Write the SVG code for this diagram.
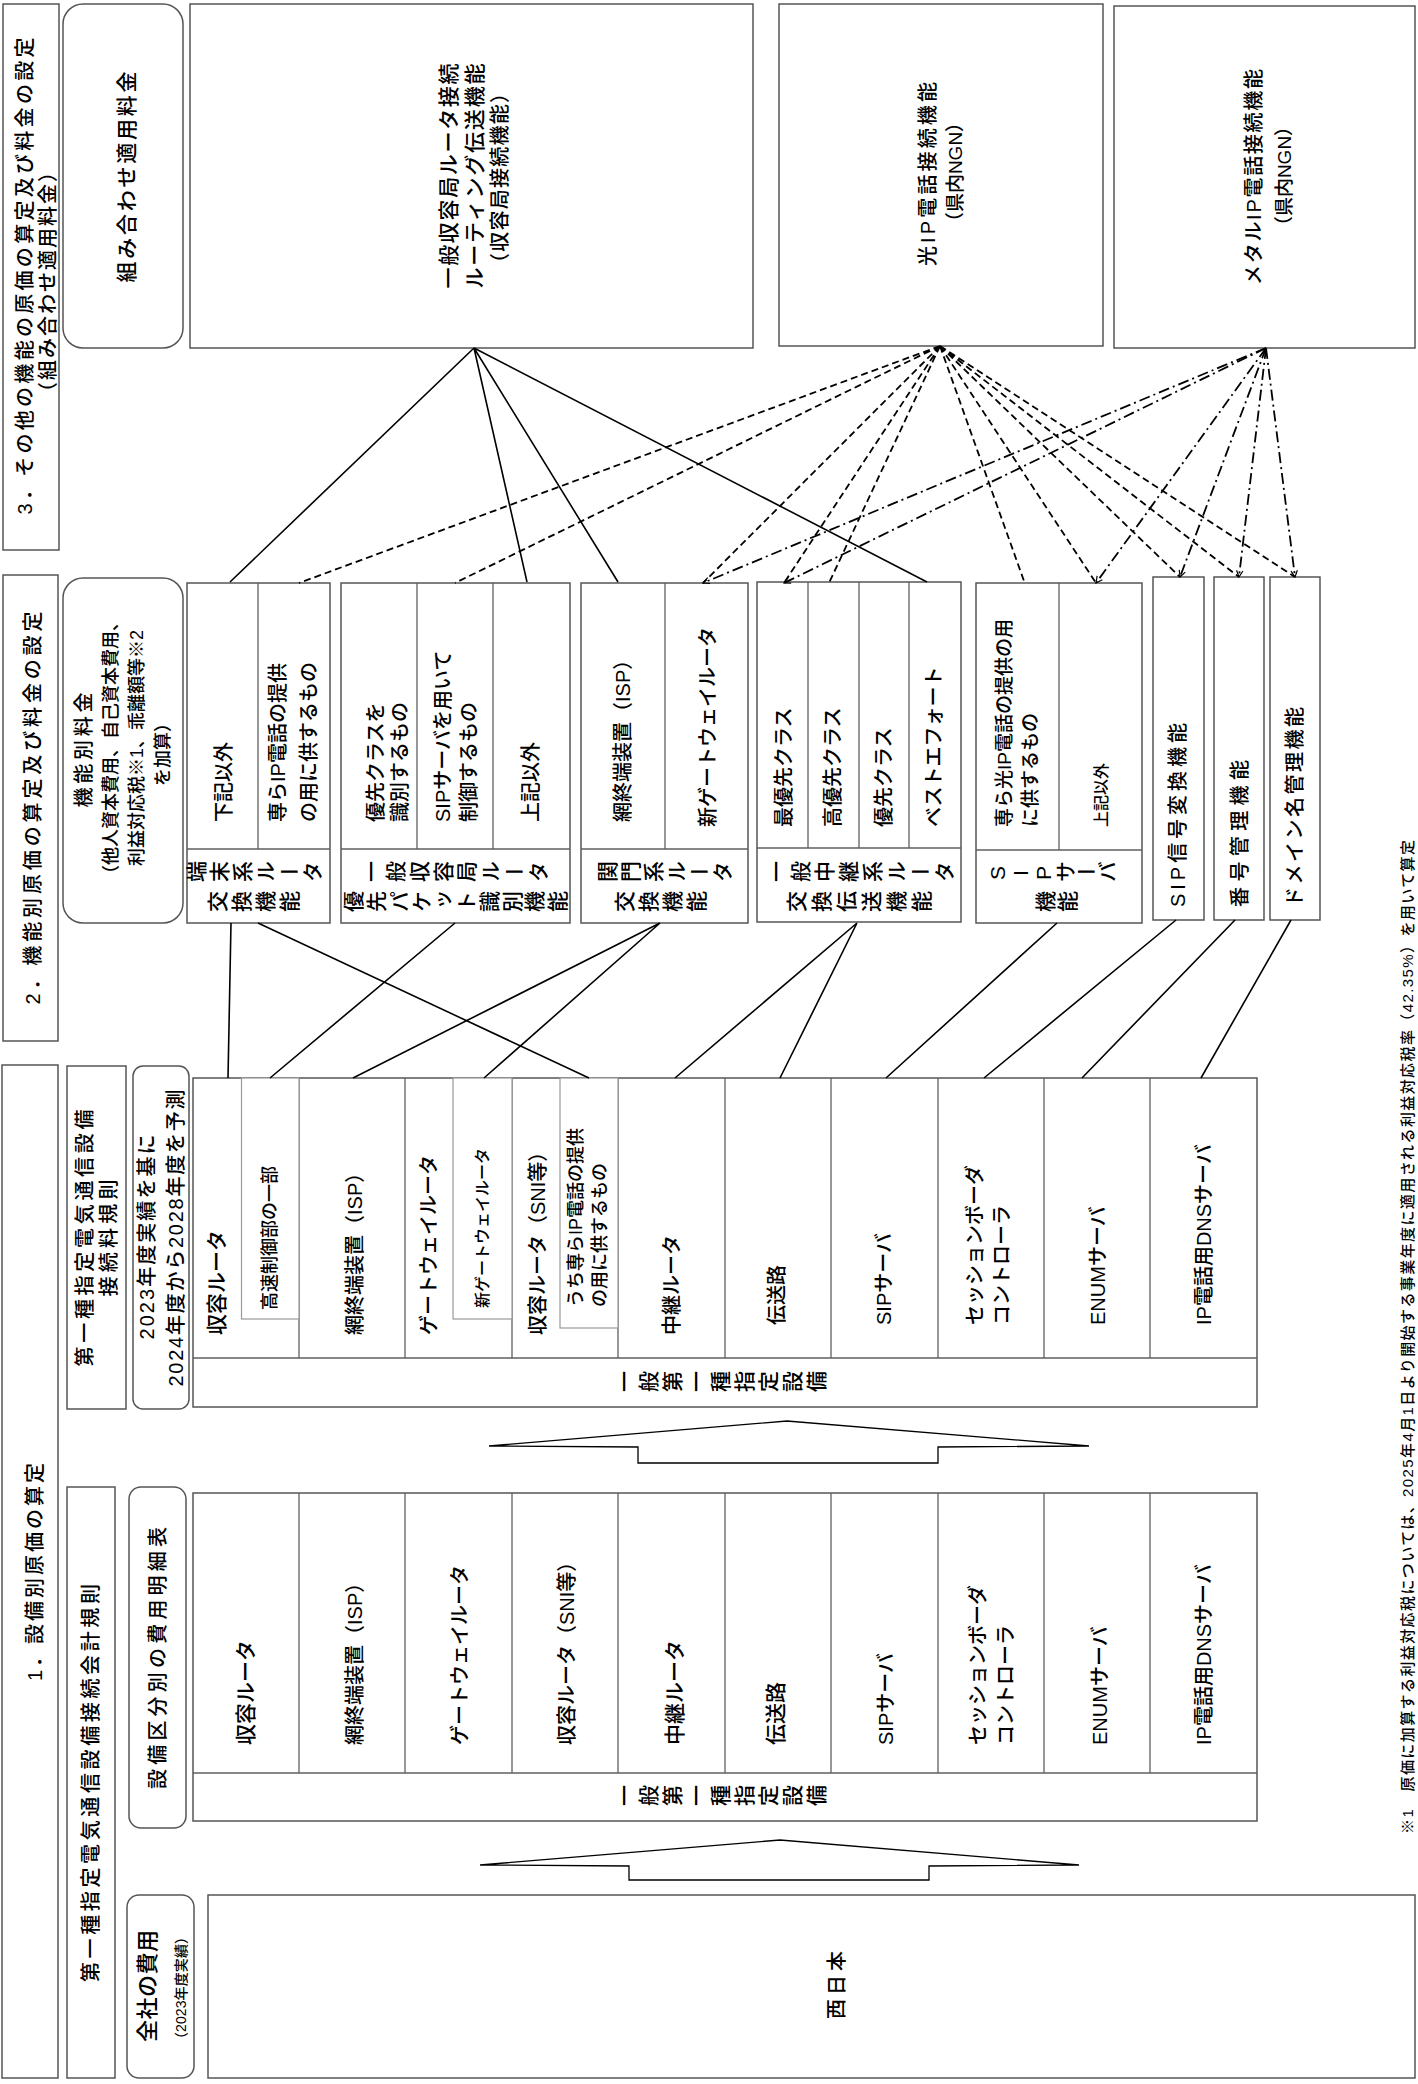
<svg xmlns="http://www.w3.org/2000/svg" width="1418" height="2084" viewBox="0 0 1418 2084">
<style>
text{font-family:"Liberation Sans","Noto Sans CJK JP",sans-serif;fill:#000;font-weight:500}
.c{text-anchor:middle;dominant-baseline:central}
.s{text-anchor:start;dominant-baseline:central}
.v{writing-mode:vertical-rl;text-orientation:upright;text-anchor:middle;font-size:21px}
.box{fill:#fff;stroke:#555;stroke-width:1.5}
.sub{fill:#fff;stroke:#9a9a9a;stroke-width:1.2}
.ln{stroke:#606060;stroke-width:1.3;fill:none}
.arr{fill:#fff;stroke:#000;stroke-width:1.3}
.sol{stroke:#000;stroke-width:1.6;fill:none}
.dash{stroke:#000;stroke-width:1.8;stroke-dasharray:7 4;fill:none}
.dd{stroke:#000;stroke-width:1.8;stroke-dasharray:11 4 2 4;fill:none}
</style>
<defs>
<marker id="ah" viewBox="0 0 10 10" refX="9" refY="5" markerWidth="8" markerHeight="8" markerUnits="userSpaceOnUse" orient="auto">
<path d="M1,1 L9,5 L1,9" fill="none" stroke="#000" stroke-width="1.5"/>
</marker>
</defs>
<rect width="1418" height="2084" fill="#fff"/>
<g transform="translate(0,2084) rotate(-90)">

<!-- Section 3 -->
<g id="s3-label">
<rect class="box" x="1534" y="3" width="546" height="56"/>
<text class="c" x="1808" y="25" font-size="20" textLength="477" lengthAdjust="spacing">3．その他の機能の原価の算定及び料金の設定</text>
<text class="c" x="1802" y="48" font-size="20" textLength="240" lengthAdjust="spacing">（組み合わせ適用料金）</text>
</g>
<g id="n-kumiawase">
<rect class="box" x="1736" y="63" width="344" height="120" rx="20"/>
<text class="c" x="1907" y="126" font-size="21" textLength="211" lengthAdjust="spacing">組み合わせ適用料金</text>
</g>
<g id="n-ippan-shuyo">
<rect class="box" x="1736" y="190" width="344" height="563"/>
<text class="c" x="1908" y="448" font-size="21" textLength="225" lengthAdjust="spacing">一般収容局ルータ接続</text>
<text class="c" x="1908" y="474" font-size="21" textLength="225" lengthAdjust="spacing">ルーティング伝送機能</text>
<text class="c" x="1906" y="500" font-size="20" textLength="190" lengthAdjust="spacing">（収容局接続機能）</text>
</g>
<g id="n-hikari">
<rect class="box" x="1738" y="779" width="342" height="324"/>
<text class="c" x="1910" y="928" font-size="20" textLength="184" lengthAdjust="spacing">光IP電話接続機能</text>
<text class="c" x="1912" y="955" font-size="19">（県内NGN）</text>
</g>
<g id="n-metal">
<rect class="box" x="1736" y="1114" width="342" height="301"/>
<text class="c" x="1907" y="1254" font-size="20" textLength="216" lengthAdjust="spacing">メタルIP電話接続機能</text>
<text class="c" x="1908" y="1284" font-size="19">（県内NGN）</text>
</g>

<!-- Section 2 -->
<g id="s2-label">
<rect class="box" x="1043" y="3" width="466" height="55"/>
<text class="c" x="1276" y="33" font-size="20" textLength="393" lengthAdjust="spacing">2．機能別原価の算定及び料金の設定</text>
</g>
<g id="n-kinoubetsu">
<rect class="box" x="1161" y="63" width="345" height="120" rx="20"/>
<text class="c" x="1334" y="84" font-size="20" textLength="115" lengthAdjust="spacing">機能別料金</text>
<text class="c" x="1336" y="111" font-size="18">（他人資本費用、自己資本費用、</text>
<text class="c" x="1336" y="137" font-size="18">利益対応税※1、乖離額等※2</text>
<text class="c" x="1334" y="163" font-size="18">を加算）</text>
</g>
<g id="n-tanmatsu">
<rect class="box" x="1161" y="187" width="340" height="143"/>
<path class="ln" d="M1235,187 V330 M1235,258 H1501"/>
<text class="s" x="1262" y="224" font-size="20">下記以外</text>
<text class="s" x="1262" y="278" font-size="20">専らIP電話の提供</text>
<text class="s" x="1262" y="309" font-size="20">の用に供するもの</text>
<text class="v" x="1211" y="255" letter-spacing="2.3">端末系ルータ</text>
<text class="v" x="1181" y="255" letter-spacing="3">交換機能</text>
</g>
<g id="n-yusen-packet">
<rect class="box" x="1161" y="341" width="340" height="229"/>
<path class="ln" d="M1235,341 V570 M1235,417 H1501 M1235,493 H1501"/>
<text class="s" x="1262" y="376" font-size="20">優先クラスを</text>
<text class="s" x="1262" y="400" font-size="20">識別するもの</text>
<text class="s" x="1262" y="443" font-size="20">SIPサーバを用いて</text>
<text class="s" x="1262" y="469" font-size="20">制御するもの</text>
<text class="s" x="1262" y="531" font-size="20">上記以外</text>
<text class="v" x="1211" y="456" letter-spacing="2.8">一般収容局ルータ</text>
<text class="v" x="1181" y="456" letter-spacing="1.6">優先パケット識別機能</text>
</g>
<g id="n-kanmon">
<rect class="box" x="1161" y="581" width="340" height="167"/>
<path class="ln" d="M1235,581 V748 M1235,665 H1501"/>
<text class="s" x="1262" y="623" font-size="20">網終端装置（ISP）</text>
<text class="s" x="1257" y="708" font-size="20">新ゲートウェイルータ</text>
<text class="v" x="1211" y="666" letter-spacing="2">関門系ルータ</text>
<text class="v" x="1181" y="662" letter-spacing="3">交換機能</text>
</g>
<g id="n-chukei">
<rect class="box" x="1162" y="757" width="340" height="204"/>
<path class="ln" d="M1236,757 V961 M1236,808 H1502 M1236,859 H1502 M1236,909 H1502"/>
<text class="s" x="1257" y="784" font-size="20">最優先クラス</text>
<text class="s" x="1257" y="833" font-size="20">高優先クラス</text>
<text class="s" x="1257" y="884" font-size="20">優先クラス</text>
<text class="s" x="1257" y="934" font-size="20">ベストエフォート</text>
<text class="v" x="1211" y="862" letter-spacing="3">一般中継系ルータ</text>
<text class="v" x="1181" y="861" letter-spacing="4">交換伝送機能</text>
</g>
<g id="n-sip">
<rect class="box" x="1161" y="976" width="340" height="166"/>
<path class="ln" d="M1234,976 V1142 M1234,1059 H1501"/>
<text class="s" x="1257" y="1004" font-size="19">専ら光IP電話の提供の用</text>
<text class="s" x="1257" y="1030" font-size="19">に供するもの</text>
<text class="s" x="1257" y="1101" font-size="16">上記以外</text>
<text class="v" x="1211" y="1052">SIPサーバ</text>
<text class="v" x="1181" y="1057" letter-spacing="1">機能</text>
</g>
<g id="n-sip-shingo">
<rect class="box" x="1164" y="1153" width="343" height="51"/>
<text class="s" x="1177" y="1178" font-size="20" textLength="184" lengthAdjust="spacing">SIP信号変換機能</text>
</g>
<g id="n-bango">
<rect class="box" x="1164" y="1214" width="343" height="50"/>
<text class="s" x="1177" y="1240" font-size="20" textLength="147" lengthAdjust="spacing">番号管理機能</text>
</g>
<g id="n-domain">
<rect class="box" x="1164" y="1270" width="343" height="50"/>
<text class="s" x="1177" y="1295" font-size="20" textLength="200" lengthAdjust="spacing">ドメイン名管理機能</text>
</g>

<!-- Section 1 -->
<g id="s1-label">
<rect class="box" x="6" y="2" width="1013" height="56"/>
<text class="c" x="512" y="35" font-size="20" textLength="218" lengthAdjust="spacing">1．設備別原価の算定</text>
</g>
<g id="n-setsuzokuryo">
<rect class="box" x="675" y="67" width="343" height="59"/>
<text class="c" x="846" y="85" font-size="20" textLength="257" lengthAdjust="spacing">第一種指定電気通信設備</text>
<text class="c" x="846" y="109" font-size="20" textLength="117" lengthAdjust="spacing">接続料規則</text>
</g>
<g id="n-yosoku">
<rect class="box" x="675" y="133" width="343" height="56" rx="10"/>
<text class="c" x="847" y="147" font-size="20" textLength="205" lengthAdjust="spacing">2023年度実績を基に</text>
<text class="c" x="846" y="176" font-size="20" textLength="297" lengthAdjust="spacing">2024年度から2028年度を予測</text>
</g>
<g id="n-table-upper">
<rect class="box" x="677" y="193" width="329" height="1064"/>
<path class="ln" d="M726,193 V1257 M726,299 H1006 M726,405 H1006 M726,512 H1006 M726,618 H1006 M726,725 H1006 M726,831 H1006 M726,938 H1006 M726,1044 H1006 M726,1150 H1006"/>
<rect class="sub" x="765" y="241.5" width="241" height="57.5"/>
<rect class="sub" x="765" y="453" width="241" height="59"/>
<rect class="sub" x="756" y="560" width="250" height="58"/>
<text class="s" x="749" y="216" font-size="21">収容ルータ</text>
<text class="s" x="774" y="270" font-size="18">高速制御部の一部</text>
<text class="s" x="749" y="355" font-size="20">網終端装置（ISP）</text>
<text class="s" x="749" y="429" font-size="20">ゲートウェイルータ</text>
<text class="s" x="776" y="482" font-size="16">新ゲートウェイルータ</text>
<text class="s" x="749" y="538" font-size="20">収容ルータ（SNI等）</text>
<text class="s" x="777" y="576" font-size="18">うち専らIP電話の提供</text>
<text class="s" x="777" y="600" font-size="18">の用に供するもの</text>
<text class="s" x="749" y="672" font-size="20">中継ルータ</text>
<text class="s" x="759" y="777" font-size="20">伝送路</text>
<text class="s" x="759" y="884" font-size="20">SIPサーバ</text>
<text class="s" x="759" y="975" font-size="20">セッションボーダ</text>
<text class="s" x="759" y="1002" font-size="20">コントローラ</text>
<text class="s" x="759" y="1098" font-size="20">ENUMサーバ</text>
<text class="s" x="759" y="1204" font-size="20">IP電話用DNSサーバ</text>
<text class="v" x="701" y="722" font-size="20" letter-spacing="3">一般第一種指定設備</text>
</g>
<g id="n-arrow1">
<polygon class="arr" points="638,489 663,787 638,1089 637,938 621,938 621,638 637,638"/>
</g>
<g id="n-kaikei">
<rect class="box" x="6" y="67" width="591" height="48"/>
<text class="c" x="301" y="91" font-size="20" textLength="398" lengthAdjust="spacing">第一種指定電気通信設備接続会計規則</text>
</g>
<g id="n-meisai">
<rect class="box" x="256" y="129" width="341" height="57" rx="12"/>
<text class="c" x="426" y="158" font-size="20" textLength="262" lengthAdjust="spacing">設備区分別の費用明細表</text>
</g>
<g id="n-table-lower">
<rect class="box" x="263" y="193" width="328" height="1064"/>
<path class="ln" d="M311,193 V1257 M311,299 H591 M311,405 H591 M311,512 H591 M311,618 H591 M311,725 H591 M311,831 H591 M311,938 H591 M311,1044 H591 M311,1150 H591"/>
<text class="s" x="339" y="245" font-size="21">収容ルータ</text>
<text class="s" x="339" y="355" font-size="20">網終端装置（ISP）</text>
<text class="s" x="339" y="460" font-size="20">ゲートウェイルータ</text>
<text class="s" x="339" y="567" font-size="20">収容ルータ（SNI等）</text>
<text class="s" x="339" y="674" font-size="21">中継ルータ</text>
<text class="s" x="339" y="775" font-size="21">伝送路</text>
<text class="s" x="339" y="886" font-size="20">SIPサーバ</text>
<text class="s" x="339" y="978" font-size="20">セッションボーダ</text>
<text class="s" x="339" y="1006" font-size="20">コントローラ</text>
<text class="s" x="339" y="1100" font-size="20">ENUMサーバ</text>
<text class="s" x="339" y="1204" font-size="20">IP電話用DNSサーバ</text>
<text class="v" x="287" y="722" font-size="20" letter-spacing="3">一般第一種指定設備</text>
</g>
<g id="n-arrow2">
<polygon class="arr" points="219,480 244,780 219,1079 218,929 204,929 204,629 218,629"/>
</g>
<g id="n-zensha">
<rect class="box" x="6" y="127" width="183" height="67" rx="12"/>
<text class="c" x="98" y="147" font-size="22" textLength="112" lengthAdjust="spacing">全社の費用</text>
<text class="c" x="96" y="181" font-size="14" textLength="116" lengthAdjust="spacing">（2023年度実績）</text>
</g>
<g id="n-nishinihon">
<rect class="box" x="6" y="208" width="183" height="1207"/>
<text class="c" x="99" y="837" font-size="20" textLength="68" lengthAdjust="spacing">西日本</text>
</g>
<g id="footnote">
<text class="s" x="250" y="1407" font-size="15" textLength="994" lengthAdjust="spacing">※1　原価に加算する利益対応税については、2025年4月1日より開始する事業年度に適用される利益対応税率（42.35%）を用いて算定</text>
</g>

<!-- Connectors -->
<g id="connectors">
<path class="sol" d="M1736,474 L1502,230 M1736,474 L1502,527 M1736,474 L1502,618 M1736,474 L1502,927"/>
<path class="dash" d="M1738,940 L1501,299 M1738,940 L1501,455 M1738,940 L1501,703 M1738,940 L1501,784 M1738,940 L1501,829 M1738,940 L1503,1024 M1738,940 L1501,1096 M1738,940 L1507,1180 M1738,940 L1507,1239 M1738,940 L1507,1295"/>
<line class="dd" x1="1736" y1="1266" x2="1501" y2="703" marker-end="url(#ah)"/>
<line class="dd" x1="1736" y1="1266" x2="1501" y2="784" marker-end="url(#ah)"/>
<line class="dd" x1="1736" y1="1266" x2="1501" y2="1096" marker-end="url(#ah)"/>
<line class="dd" x1="1736" y1="1266" x2="1507" y2="1180" marker-end="url(#ah)"/>
<line class="dd" x1="1736" y1="1266" x2="1507" y2="1239" marker-end="url(#ah)"/>
<line class="dd" x1="1736" y1="1266" x2="1507" y2="1295" marker-end="url(#ah)"/>
<path class="sol" d="M1161,231 L1006,228 M1161,258 L1006,589 M1161,455 L1006,270 M1161,660 L1006,353 M1161,660 L1006,484 M1161,857 L1006,675 M1161,857 L1006,780 M1161,1057 L1006,886 M1164,1176 L1006,984 M1164,1235 L1006,1082 M1164,1291 L1006,1201"/>
</g>
</g>
</svg>
